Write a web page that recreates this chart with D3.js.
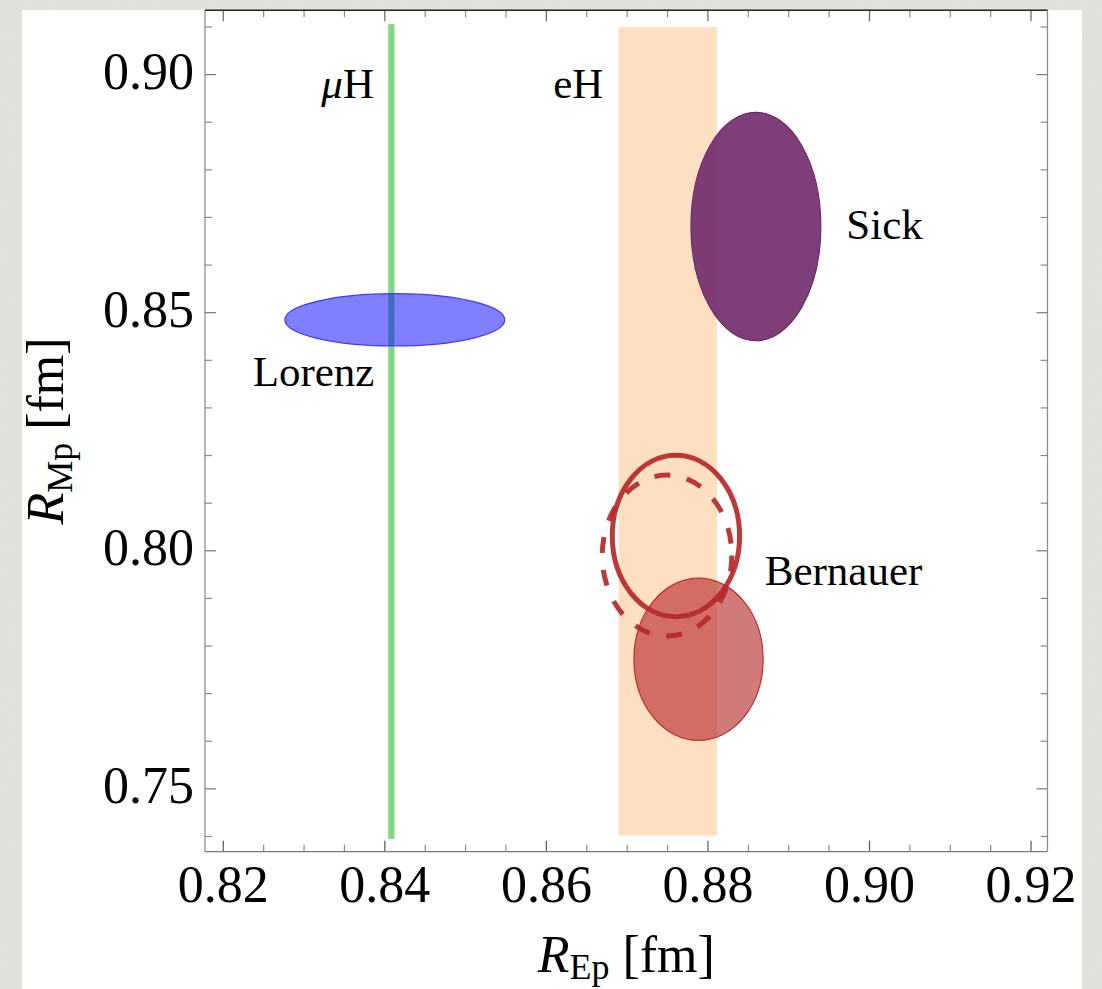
<!DOCTYPE html>
<html>
<head>
<meta charset="utf-8">
<script src="https://cdn.jsdelivr.net/npm/d3@7"></script>
<style>
  html, body { margin: 0; padding: 0; background: #e4e4df; }
  svg { display: block; }
  text { font-family: "Liberation Serif", "Times New Roman", serif; fill: #000; }
</style>
</head>
<body>
<svg id="chart" width="1102" height="989"></svg>
<script>
// ---- data ----
const xDomain = [0.8178, 0.9221];
const yDomain = [0.7367, 0.9134];
const xMajorTicks = [0.82, 0.84, 0.86, 0.88, 0.90, 0.92];
const yMajorTicks = [0.75, 0.80, 0.85, 0.90];
const xMinorStep = 0.005;
const yMinorStep = 0.01;

// vertical bands
const bandNames = ["μH", "eH"];
const bandXMin = [0.84048, 0.8690];
const bandXMax = [0.84126, 0.8812];
const bandYMin = [0.7394, 0.7401];
const bandYMax = [0.9105, 0.9099];
const bandColors = ["#82d882", "#fedfc2"];

// filled ellipses
const fillNames = ["Lorenz", "Sick", "Bernauer"];
const fillCx = [0.8413, 0.8860, 0.8789];
const fillCy = [0.8484, 0.8680, 0.7771];
const fillRx = [0.01361, 0.00804, 0.00800];
const fillRy = [0.00550, 0.02398, 0.01705];
const fillColors = ["#0000ff", "#6f296c", "#b22222"];
const fillOpacity = [0.5, 0.9, 0.6];
const fillStroke = ["#3a3aff", "#6a2a68", "#b83030"];

// outline ellipses (Bernauer)
const lineNames = ["Bernauer solid", "Bernauer dashed"];
const lineCx = [0.8761, 0.8750];
const lineCy = [0.8030, 0.7989];
const lineRx = [0.00788, 0.00802];
const lineRy = [0.01697, 0.01690];
const lineDash = [null, "16,17"];

// text labels (baseline start, data units)
const labelTexts = ["Lorenz", "Sick", "Bernauer", "eH"];
const labelX = [0.8237, 0.8972, 0.8871, 0.8609];
const labelY = [0.8344, 0.8653, 0.7927, 0.8950];
const muLabelX = 0.8322, muLabelY = 0.8949;

// ---- drawing ----
const svg = d3.select("#chart");
const W = 1102, H = 989;

const defs = svg.append("defs");
const f = defs.append("filter").attr("id", "noise").attr("x", 0).attr("y", 0).attr("width", "100%").attr("height", "100%");
f.append("feTurbulence").attr("type", "fractalNoise").attr("baseFrequency", 0.9).attr("numOctaves", 2).attr("seed", 3).attr("result", "t");
f.append("feColorMatrix").attr("type", "matrix")
  .attr("values", "0 0 0 0 0.5  0 0 0 0 0.5  0 0 0 0 0.48  0 0 0 0.25 0");
svg.append("rect").attr("width", W).attr("height", H).attr("fill", "#e4e4df");
svg.append("rect").attr("width", W).attr("height", H).attr("filter", "url(#noise)").attr("opacity", 0.5);

svg.append("rect").attr("x", 22).attr("y", 10).attr("width", 1060).attr("height", H - 10).attr("fill", "#fff");

const pLeft = 205, pRight = 1047.5, pTop = 10.3, pBottom = 851.7;
const x = d3.scaleLinear().domain(xDomain).range([pLeft, pRight]);
const y = d3.scaleLinear().domain(yDomain).range([pBottom, pTop]);

const xMinor = d3.range(0.82, 0.9201, xMinorStep).map(v => +v.toFixed(3)).filter(v => !xMajorTicks.some(m => Math.abs(m - v) < 1e-9));
const yMinor = d3.range(0.74, 0.9101, yMinorStep).map(v => +v.toFixed(3)).filter(v => !yMajorTicks.some(m => Math.abs(m - v) < 1e-9));

const plot = svg.append("g");
defs.append("clipPath").attr("id", "clip").append("rect")
  .attr("x", pLeft).attr("y", pTop).attr("width", pRight - pLeft).attr("height", pBottom - pTop);
const inner = plot.append("g").attr("clip-path", "url(#clip)");

inner.selectAll("rect.band").data(bandNames).join("rect").attr("class", "band")
  .attr("x", (d, i) => x(bandXMin[i]))
  .attr("width", (d, i) => x(bandXMax[i]) - x(bandXMin[i]))
  .attr("y", (d, i) => y(bandYMax[i]))
  .attr("height", (d, i) => y(bandYMin[i]) - y(bandYMax[i]))
  .attr("fill", (d, i) => bandColors[i]);

inner.selectAll("ellipse.fill").data(fillNames).join("ellipse").attr("class", "fill")
  .attr("cx", (d, i) => x(fillCx[i]))
  .attr("cy", (d, i) => y(fillCy[i]))
  .attr("rx", (d, i) => x(fillCx[i] + fillRx[i]) - x(fillCx[i]))
  .attr("ry", (d, i) => y(fillCy[i]) - y(fillCy[i] + fillRy[i]))
  .attr("fill", (d, i) => fillColors[i])
  .attr("fill-opacity", (d, i) => fillOpacity[i])
  .attr("stroke", (d, i) => fillStroke[i])
  .attr("stroke-width", 1.2);

inner.selectAll("ellipse.line").data(lineNames).join("ellipse").attr("class", "line")
  .attr("cx", (d, i) => x(lineCx[i]))
  .attr("cy", (d, i) => y(lineCy[i]))
  .attr("rx", (d, i) => x(lineCx[i] + lineRx[i]) - x(lineCx[i]))
  .attr("ry", (d, i) => y(lineCy[i]) - y(lineCy[i] + lineRy[i]))
  .attr("fill", "none")
  .attr("stroke", "#b5282a")
  .attr("stroke-opacity", 0.92)
  .attr("stroke-width", 5)
  .attr("stroke-dasharray", (d, i) => lineDash[i]);

plot.selectAll("text.lab").data(labelTexts).join("text").attr("class", "lab")
  .attr("x", (d, i) => x(labelX[i]))
  .attr("y", (d, i) => y(labelY[i]))
  .attr("font-size", 43)
  .text(d => d);

const mu = plot.append("text").attr("x", x(muLabelX)).attr("y", y(muLabelY)).attr("font-size", 43);
mu.append("tspan").attr("font-style", "italic").text("μ");
mu.append("tspan").text("H");

function styleAxis(g, color) {
  g.select(".domain").remove();
  g.selectAll(".tick line").attr("stroke", color).attr("stroke-width", 1.2);
  g.selectAll(".tick text").attr("font-family", "Liberation Serif, serif").attr("font-size", 52).attr("fill", "#000");
}
const axisColor = "#8a8a8a";

const gb = plot.append("g").attr("transform", `translate(0,${pBottom})`)
  .call(d3.axisBottom(x).tickValues(xMinor).tickSize(-7).tickFormat(""));
styleAxis(gb, axisColor);
const gb2 = plot.append("g").attr("transform", `translate(0,${pBottom})`)
  .call(d3.axisBottom(x).tickValues(xMajorTicks).tickSize(-11).tickPadding(0).tickFormat(d3.format(".2f")));
styleAxis(gb2, "#555");
gb2.selectAll(".tick text").attr("dy", null).attr("y", 50);

const gt = plot.append("g").attr("transform", `translate(0,${pTop})`)
  .call(d3.axisTop(x).tickValues(xMinor).tickSize(-7).tickFormat(""));
styleAxis(gt, axisColor);
const gt2 = plot.append("g").attr("transform", `translate(0,${pTop})`)
  .call(d3.axisTop(x).tickValues(xMajorTicks).tickSize(-11).tickFormat(""));
styleAxis(gt2, "#666");

const gl = plot.append("g").attr("transform", `translate(${pLeft},0)`)
  .call(d3.axisLeft(y).tickValues(yMinor).tickSize(-7).tickFormat(""));
styleAxis(gl, axisColor);
const gl2 = plot.append("g").attr("transform", `translate(${pLeft},0)`)
  .call(d3.axisLeft(y).tickValues(yMajorTicks).tickSize(-11).tickPadding(0).tickFormat(d3.format(".2f")));
styleAxis(gl2, "#777");
gl2.selectAll(".tick text").attr("x", -11).attr("dy", null).attr("y", 14);

const gr = plot.append("g").attr("transform", `translate(${pRight},0)`)
  .call(d3.axisRight(y).tickValues(yMinor).tickSize(-7).tickFormat(""));
styleAxis(gr, axisColor);
const gr2 = plot.append("g").attr("transform", `translate(${pRight},0)`)
  .call(d3.axisRight(y).tickValues(yMajorTicks).tickSize(-11).tickFormat(""));
styleAxis(gr2, "#777");

plot.append("line").attr("x1", pLeft).attr("x2", pLeft).attr("y1", pTop).attr("y2", pBottom).attr("stroke", "#8c8c8c").attr("stroke-width", 1.3);
plot.append("line").attr("x1", pRight).attr("x2", pRight).attr("y1", pTop).attr("y2", pBottom).attr("stroke", "#8c8c8c").attr("stroke-width", 1.3);
plot.append("line").attr("x1", pLeft).attr("x2", pRight).attr("y1", pBottom).attr("y2", pBottom).attr("stroke", "#7a7a7a").attr("stroke-width", 1.3);
plot.append("line").attr("x1", pLeft).attr("x2", pRight).attr("y1", pTop).attr("y2", pTop).attr("stroke", "#222").attr("stroke-width", 1.5);

const xt = svg.append("text").attr("x", (pLeft + pRight) / 2).attr("y", 972).attr("text-anchor", "middle").attr("font-size", 52);
xt.append("tspan").attr("font-style", "italic").text("R");
xt.append("tspan").attr("font-size", 36).attr("dy", 7).text("Ep");
xt.append("tspan").attr("dy", -7).text(" [fm]");

const yt = svg.append("text").attr("transform", `translate(63,${(pTop + pBottom) / 2}) rotate(-90)`).attr("text-anchor", "middle").attr("font-size", 52);
yt.append("tspan").attr("font-style", "italic").text("R");
yt.append("tspan").attr("font-size", 36).attr("dy", 9).text("Mp");
yt.append("tspan").attr("dy", -9).text(" [fm]");
</script>
</body>
</html>
